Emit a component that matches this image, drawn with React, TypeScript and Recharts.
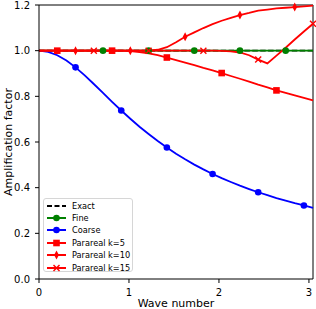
import React from 'react'
import { LineChart, Line, XAxis, YAxis, ReferenceLine, Legend } from 'recharts'

// wave numbers of the sampling grid
const wave = [
  0, 0.102, 0.203, 0.305, 0.406, 0.508, 0.609, 0.711, 0.812, 0.914, 1.015, 1.117, 1.218, 1.32, 1.421, 1.523,
  1.624, 1.726, 1.827, 1.929, 2.03, 2.132, 2.233, 2.335, 2.436, 2.538, 2.639, 2.741, 2.842, 2.944, 3.045,
]

const exact = [1, 1, 1, 1, 1, 1, 1, 1, 1, 1, 1, 1, 1, 1, 1, 1, 1, 1, 1, 1, 1, 1, 1, 1, 1, 1, 1, 1, 1, 1, 1]
const fine = [1, 1, 1, 1, 1, 1, 1, 1, 1, 1, 1, 1, 1, 1, 1, 1, 1, 1, 1, 1, 1, 1, 1, 1, 1, 1, 1, 1, 1, 1, 1]
const coarse = [
  1, 0.995, 0.98, 0.957, 0.927, 0.892, 0.854, 0.815, 0.776, 0.738, 0.702, 0.667, 0.635, 0.604, 0.576, 0.549,
  0.524, 0.501, 0.48, 0.46, 0.442, 0.425, 0.409, 0.394, 0.38, 0.367, 0.354, 0.343, 0.332, 0.322, 0.312,
]
const para5 = [
  1, 1, 1, 1, 1, 1, 1, 1, 1, 1, 0.998, 0.994, 0.988, 0.98, 0.97, 0.959, 0.948, 0.937, 0.925, 0.914, 0.902, 0.889,
  0.877, 0.864, 0.851, 0.839, 0.826, 0.815, 0.804, 0.793, 0.782,
]
const para10 = [
  1, 1, 1, 1, 1, 1, 1, 1, 1, 1, 1, 1, 1, 1.004, 1.015, 1.037, 1.061, 1.08, 1.099, 1.116, 1.131, 1.144, 1.156,
  1.165, 1.175, 1.18, 1.185, 1.188, 1.191, 1.194, 1.197,
]
const para15 = [
  1, 1, 1, 1, 1, 1, 1, 1, 1, 1, 1, 1, 1, 1, 1, 1, 1, 1, 1, 1, 0.999, 0.997, 0.992, 0.98, 0.961, 0.944, 0.978,
  1.013, 1.049, 1.084, 1.118,
]

// grid indices that carry a marker
const fineMarks = [7, 12, 17, 22, 27]
const coarseMarks = [4, 9, 14, 19, 24, 29]
const para5Marks = [2, 8, 14, 20, 26]
const para10Marks = [4, 10, 16, 22, 28]
const para15Marks = [6, 12, 18, 24, 30]

const xTicks = [0, 1, 2, 3]
const yTicks = [0, 0.2, 0.4, 0.6, 0.8, 1.0, 1.2]

const data = wave.map((w, i) => ({
  w,
  exact: exact[i],
  fine: fine[i],
  coarse: coarse[i],
  para5: para5[i],
  para10: para10[i],
  para15: para15[i],
}))

const FONT = '"DejaVu Sans", sans-serif'

type Shape = 'circle' | 'square' | 'diamond' | 'x' | 'none'

function Marker({ cx, cy, shape, color }: { cx: number; cy: number; shape: Shape; color: string }) {
  if (shape === 'circle') return <circle cx={cx} cy={cy} r={3.3} fill={color} />
  if (shape === 'square') return <rect x={cx - 3.3} y={cy - 3.3} width={6.6} height={6.6} fill={color} />
  if (shape === 'diamond')
    return <polygon points={`${cx},${cy - 4.5} ${cx + 2.4},${cy} ${cx},${cy + 4.5} ${cx - 2.4},${cy}`} fill={color} />
  if (shape === 'x')
    return (
      <g stroke={color} strokeWidth={1.4}>
        <line x1={cx - 3} y1={cy - 3} x2={cx + 3} y2={cy + 3} />
        <line x1={cx - 3} y1={cy + 3} x2={cx + 3} y2={cy - 3} />
      </g>
    )
  return null
}

const makeDot = (marks: number[], shape: Shape, color: string) => (props: any) => {
  const { cx, cy, index } = props
  if (!marks.includes(index) || cx == null || cy == null) return <g key={`d-${index}`} />
  return (
    <g key={`d-${index}`}>
      <Marker cx={cx} cy={cy} shape={shape} color={color} />
    </g>
  )
}

const legendItems: { label: string; color: string; shape: Shape; dashed?: boolean }[] = [
  { label: 'Exact', color: '#000000', shape: 'none', dashed: true },
  { label: 'Fine', color: '#008000', shape: 'circle' },
  { label: 'Coarse', color: '#0000ff', shape: 'circle' },
  { label: 'Parareal k=5', color: '#ff0000', shape: 'square' },
  { label: 'Parareal k=10', color: '#ff0000', shape: 'diamond' },
  { label: 'Parareal k=15', color: '#ff0000', shape: 'x' },
]

function renderLegend() {
  return (
    <div
      style={{
        width: 90,
        height: 74,
        border: '1px solid #d6d6d6',
        borderRadius: 3,
        background: 'rgba(255,255,255,0.8)',
        fontFamily: FONT,
        fontSize: 8.2,
        color: '#000',
        boxSizing: 'border-box',
        paddingTop: 0.5,
      }}
    >
      {legendItems.map((it) => (
        <div key={it.label} style={{ display: 'flex', alignItems: 'center', height: 12.4 }}>
          <svg width={26} height={10} style={{ marginLeft: 2, flexShrink: 0 }}>
            <line
              x1={1}
              y1={5}
              x2={20}
              y2={5}
              stroke={it.color}
              strokeWidth={2}
              strokeDasharray={it.dashed ? '5 2.5' : undefined}
            />
            <Marker cx={10.5} cy={5} shape={it.shape} color={it.color} />
          </svg>
          <span style={{ whiteSpace: 'nowrap' }}>{it.label}</span>
        </div>
      ))}
    </div>
  )
}

export default function App() {
  return (
    <div style={{ width: 316, height: 309, background: '#fff' }}>
      <style>{'html, body { margin: 0; padding: 0; }'}</style>
      <LineChart width={316} height={309} data={data} margin={{ top: 5, right: 3, left: 7, bottom: 0 }}>
        <XAxis
          dataKey="w"
          type="number"
          domain={[0, 3.045]}
          ticks={xTicks}
          interval={0}
          tickSize={4}
          tickMargin={6}
          height={30}
          stroke="#000"
          tick={{ fill: '#000', fontSize: 10, fontFamily: FONT }}
          label={{ value: 'Wave number', position: 'insideBottom', offset: 2, fill: '#000', fontSize: 11, fontFamily: FONT }}
        />
        <YAxis
          type="number"
          domain={[0, 1.2]}
          ticks={yTicks}
          interval={0}
          tickFormatter={(v: number) => v.toFixed(1)}
          tickSize={4}
          tickMargin={5}
          width={32}
          stroke="#000"
          tick={{ fill: '#000', fontSize: 10, fontFamily: FONT }}
          label={{
            value: 'Amplification factor',
            angle: -90,
            position: 'insideLeft',
            offset: 1,
            fill: '#000',
            fontSize: 11,
            fontFamily: FONT,
            style: { textAnchor: 'middle' },
          }}
        />
        <ReferenceLine y={1.2} stroke="#000" />
        <ReferenceLine x={3.045} stroke="#000" />
        <Legend
          layout="vertical"
          align="center"
          verticalAlign="middle"
          content={renderLegend}
          wrapperStyle={{ left: 43, top: 198, width: 90, height: 74 }}
        />
        <Line dataKey="exact" stroke="#000" strokeWidth={1.8} strokeDasharray="5.5 2.4" dot={false} isAnimationActive={false} />
        <Line dataKey="fine" stroke="#008000" strokeWidth={1.8} dot={makeDot(fineMarks, 'circle', '#008000')} isAnimationActive={false} />
        <Line dataKey="coarse" stroke="#0000ff" strokeWidth={1.8} dot={makeDot(coarseMarks, 'circle', '#0000ff')} isAnimationActive={false} />
        <Line dataKey="para5" stroke="#ff0000" strokeWidth={1.8} dot={makeDot(para5Marks, 'square', '#ff0000')} isAnimationActive={false} />
        <Line dataKey="para10" stroke="#ff0000" strokeWidth={1.8} dot={makeDot(para10Marks, 'diamond', '#ff0000')} isAnimationActive={false} />
        <Line dataKey="para15" stroke="#ff0000" strokeWidth={1.8} dot={makeDot(para15Marks, 'x', '#ff0000')} isAnimationActive={false} />
      </LineChart>
    </div>
  )
}
